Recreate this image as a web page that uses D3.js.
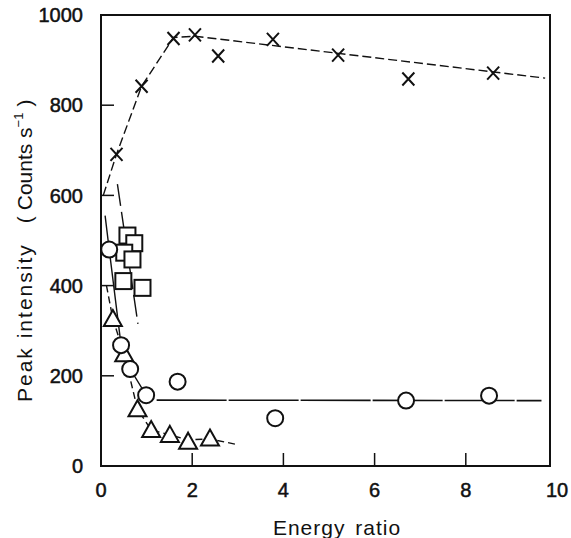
<!DOCTYPE html>
<html>
<head>
<meta charset="utf-8">
<script src="https://cdn.jsdelivr.net/npm/d3@7"></script>
<style>
  body { margin: 0; background: #fff; }
  text { font-family: "Liberation Sans", Arial, sans-serif; fill: #111; }
</style>
</head>
<body>
<div id="chart"></div>
<script>
// measured points (energy ratio, counts/s)
const crossX = [0.34, 0.89, 1.59, 2.06, 2.57, 3.77, 5.2, 6.74, 8.6];
const crossY = [691, 842, 948, 956, 909, 946, 911, 858, 871];
const circleX = [0.18, 0.44, 0.64, 0.99, 1.68, 3.82, 6.69, 8.51];
const circleY = [480, 268, 215, 157, 187, 106, 145, 156];
const triX = [0.26, 0.51, 0.8, 1.1, 1.51, 1.91, 2.39];
const triY = [326, 248, 126, 80, 69, 54, 61];
const squareX = [0.58, 0.73, 0.51, 0.69, 0.49, 0.91];
const squareY = [511, 494, 473, 458, 410, 395];

// hand drawn fit curves
const crossFitX = [0.05, 0.34, 0.89, 1.59, 2.06, 9.74];
const crossFitY = [600, 691, 842, 950, 953, 860];
const circleFitX = [0.09, 0.18, 0.44, 0.64, 0.99];
const circleFitY = [555, 480, 268, 215, 157];
const circleFlatX = [1.22, 9.66];
const circleFlatY = [146, 145];
const triFitX = [0.12, 0.26, 0.51, 0.8, 1.1, 1.51, 1.91, 2.39, 3.01];
const triFitY = [400, 326, 248, 126, 80, 69, 58, 60, 47];
const squareFitX = [0.36, 0.81];
const squareFitY = [625, 315];

const xTicks = [0, 2, 4, 6, 8, 10];
const yTicks = [0, 200, 400, 600, 800, 1000];

const width = 571, height = 538;
const svg = d3.select("#chart").append("svg")
  .attr("width", width)
  .attr("height", height);

const x = d3.scaleLinear().domain([0, 10]).range([101, 557]);
const y = d3.scaleLinear().domain([0, 1000]).range([466, 15]);
const xRight = 550; // frame closes a bit before 10

// frame
svg.append("path")
  .attr("d", `M${x(0)},${y(1000)}H${xRight}V${y(0)}H${x(0)}Z`)
  .attr("fill", "none")
  .attr("stroke", "#111")
  .attr("stroke-width", 2);

// inward ticks
svg.append("g").selectAll("line")
  .data(yTicks.filter(d => d > 0 && d < 1000))
  .join("line")
  .attr("x1", x(0)).attr("x2", x(0) + 13)
  .attr("y1", d => y(d)).attr("y2", d => y(d))
  .attr("stroke", "#111").attr("stroke-width", 1.5);

svg.append("g").selectAll("line")
  .data(xTicks.filter(d => d > 0 && d < 10))
  .join("line")
  .attr("x1", d => x(d)).attr("x2", d => x(d))
  .attr("y1", y(0)).attr("y2", y(0) - 13)
  .attr("stroke", "#111").attr("stroke-width", 1.5);

// tick labels
svg.append("g").selectAll("text")
  .data(yTicks)
  .join("text")
  .attr("x", 83)
  .attr("y", d => y(d))
  .attr("dy", "0.36em")
  .attr("text-anchor", "end")
  .attr("font-size", 20)
  .attr("stroke", "#111").attr("stroke-width", 0.5)
  .text(d => d);

svg.append("g").selectAll("text")
  .data(xTicks)
  .join("text")
  .attr("x", d => x(d))
  .attr("y", 497)
  .attr("text-anchor", "middle")
  .attr("font-size", 20)
  .attr("stroke", "#111").attr("stroke-width", 0.5)
  .text(d => d);

// axis titles
svg.append("text")
  .attr("x", 337).attr("y", 535)
  .attr("text-anchor", "middle")
  .attr("font-size", 21)
  .attr("letter-spacing", 1)
  .attr("word-spacing", 3)
  .text("Energy ratio");

const yt = svg.append("text")
  .attr("transform", "translate(32,402) rotate(-90)")
  .attr("font-size", 21);
yt.append("tspan").attr("letter-spacing", 2).text("Peak intensity");
yt.append("tspan").attr("dx", 20).text("(");
yt.append("tspan").attr("dx", 6).text("Counts s");
yt.append("tspan").attr("dy", -9).attr("font-size", 13).text("\u22121");
yt.append("tspan").attr("dy", 9).attr("dx", 6).text(")");

// fit lines
const line = d3.line().x(d => x(d[0])).y(d => y(d[1]));
const fits = [
  { xs: crossFitX, ys: crossFitY, dash: "9,4", w: 1.4 },
  { xs: circleFitX, ys: circleFitY, dash: null, w: 1.4 },
  { xs: circleFlatX, ys: circleFlatY, dash: "70,2", w: 1.6 },
  { xs: triFitX, ys: triFitY, dash: "7,4", w: 1.4 },
  { xs: squareFitX, ys: squareFitY, dash: "22,6", w: 1.4 }
];
svg.append("g").selectAll("path")
  .data(fits)
  .join("path")
  .attr("d", f => line(d3.zip(f.xs, f.ys)))
  .attr("fill", "none")
  .attr("stroke", "#111")
  .attr("stroke-width", f => f.w)
  .attr("stroke-dasharray", f => f.dash);

// markers
svg.append("g").selectAll("path")
  .data(d3.zip(triX, triY))
  .join("path")
  .attr("transform", d => `translate(${x(d[0])},${y(d[1])})`)
  .attr("d", "M0,-9L9,7L-9,7Z")
  .attr("fill", "#fff").attr("stroke", "#111").attr("stroke-width", 2);

svg.append("g").selectAll("rect")
  .data(d3.zip(squareX, squareY))
  .join("rect")
  .attr("x", d => x(d[0]) - 8).attr("y", d => y(d[1]) - 8)
  .attr("width", 16).attr("height", 16)
  .attr("fill", "#fff").attr("stroke", "#111").attr("stroke-width", 2);

svg.append("g").selectAll("circle")
  .data(d3.zip(circleX, circleY))
  .join("circle")
  .attr("cx", d => x(d[0])).attr("cy", d => y(d[1]))
  .attr("r", 8)
  .attr("fill", "#fff").attr("stroke", "#111").attr("stroke-width", 2);

svg.append("g").selectAll("path")
  .data(d3.zip(crossX, crossY))
  .join("path")
  .attr("transform", d => `translate(${x(d[0])},${y(d[1])})`)
  .attr("d", "M-6,-6.5L6,6.5M-6,6.5L6,-6.5")
  .attr("fill", "none").attr("stroke", "#111").attr("stroke-width", 2);
</script>
</body>
</html>
